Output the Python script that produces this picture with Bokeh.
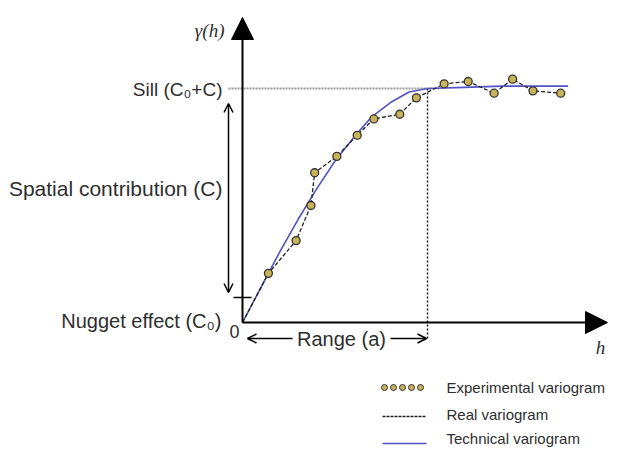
from bokeh.plotting import figure
from bokeh.models import Range1d, Arrow, NormalHead, OpenHead, Label
from bokeh.embed import file_html
from bokeh.resources import INLINE

# ---------------- data ----------------
sill = 1.0          # C0 + C
range_a = 10.0      # range a
nugget = 0.107      # nugget effect C0 (tick on the gamma axis)

exp_h = [1.4, 2.9, 3.7, 3.9, 5.1, 6.2, 7.1, 8.5, 9.4, 10.9, 12.2, 13.6, 14.6, 15.7, 17.2]
exp_g = [0.21, 0.35, 0.50, 0.64, 0.71, 0.80, 0.87, 0.89, 0.96, 1.02, 1.03, 0.98, 1.04, 0.99, 0.98]

real_h = [0.0] + exp_h
real_g = [0.0] + exp_g

tech_h = [0, 1, 2, 3, 4, 5, 6, 7, 8, 9, 10, 12, 14, 16, 17.6]
tech_g = [0, 0.15, 0.30, 0.44, 0.57, 0.69, 0.79, 0.88, 0.94, 0.985, 1.0, 1.005, 1.01, 1.01, 1.01]

legend_labels = ["Experimental variogram", "Real variogram", "Technical variogram"]

# ---------------- layout helpers (pixel -> data) ----------------
PX0, PY0, SX, SY = 242.0, 322.0, 18.5, 234.0
def X(px):
    return (px - PX0) / SX
def Y(py):
    return (PY0 - py) / SY

W, H = 608, 447
p = figure(width=W, height=H, output_backend="svg", toolbar_location=None,
           x_range=Range1d(X(0), X(W)), y_range=Range1d(Y(H), Y(0)),
           x_axis_location=None, y_axis_location=None, min_border=0)
p.grid.visible = False
p.outline_line_color = None
p.background_fill_color = "white"

INK = "#2e2e2e"
FONT = "Liberation Sans"
SERIF = "Liberation Serif"
BLUE = "#5353c6"
MFILL = "#c8b35a"

# sill dotted line and range dotted line
p.line([X(228), X(432)], [sill, sill], line_color="#9a9a9a", line_width=2, line_dash="2 1")
p.line([range_a, range_a], [sill, Y(338)], line_color="#111111", line_width=1.4, line_dash="2 2")

# axes with filled arrow heads
p.add_layout(Arrow(end=NormalHead(size=22, fill_color="black", line_color="black"),
                   x_start=0, y_start=0, x_end=0, y_end=Y(17), line_width=2, line_color="black"))
p.add_layout(Arrow(end=NormalHead(size=22, fill_color="black", line_color="black"),
                   x_start=0, y_start=0, x_end=X(607), y_end=0, line_width=2, line_color="black"))

# nugget tick
p.line([X(233), X(251)], [nugget, nugget], line_color="black", line_width=1.5)

# spatial contribution double arrow
p.add_layout(Arrow(start=OpenHead(size=9, line_width=1.5), end=OpenHead(size=9, line_width=1.5),
                   x_start=X(228), y_start=Y(292), x_end=X(228), y_end=Y(103),
                   line_width=1.5, line_color="black"))
# range arrows
p.add_layout(Arrow(end=OpenHead(size=9, line_width=1.5), x_start=X(292), y_start=Y(338),
                   x_end=X(247), y_end=Y(338), line_width=1.5, line_color="black"))
p.add_layout(Arrow(end=OpenHead(size=9, line_width=1.5), x_start=X(390), y_start=Y(338),
                   x_end=X(426), y_end=Y(338), line_width=1.5, line_color="black"))

# series
p.line(tech_h, tech_g, line_color=BLUE, line_width=1.6)
p.line(real_h, real_g, line_color="#222222", line_width=1.3, line_dash="4 2")
p.scatter(exp_h, exp_g, size=8, marker="circle", fill_color=MFILL, line_color="#333333", line_width=1.3)

# labels
def label(px, py, txt, size, align="left", font=FONT, style="normal", color=INK):
    p.add_layout(Label(x=X(px), y=Y(py), text=txt, text_font=font, text_font_size=f"{size}px",
                       text_align=align, text_baseline="middle", text_color=color,
                       text_font_style=style))

label(222, 89, "Sill (C₀+C)", 19, "right")
label(222, 188, "Spatial contribution (C)", 21, "right")
label(221, 320, "Nugget effect (C₀)", 20, "right")
label(234, 331, "0", 18, "center")
label(341, 338, "Range (a)", 20, "center")
label(224, 30, "γ(h)", 19, "right", font=SERIF, style="italic")
label(600, 347, "h", 19, "center", font=SERIF, style="italic")

# legend
leg_y = [387, 414, 438]
for i, lab in enumerate(legend_labels):
    label(446, leg_y[i], lab, 15, "left")
mx = [384, 393, 402, 411, 420]
p.scatter([X(v) for v in mx], [Y(leg_y[0])] * 5, size=6, marker="circle",
          fill_color=MFILL, line_color="#333333", line_width=1)
p.line([X(382), X(426)], [Y(leg_y[1] + 2)] * 2, line_color="#222222", line_width=1.3, line_dash="3 1")
p.line([X(382), X(426)], [Y(leg_y[2] + 5)] * 2, line_color=BLUE, line_width=1.6)

open("out.html", "w").write(file_html(p, INLINE))
